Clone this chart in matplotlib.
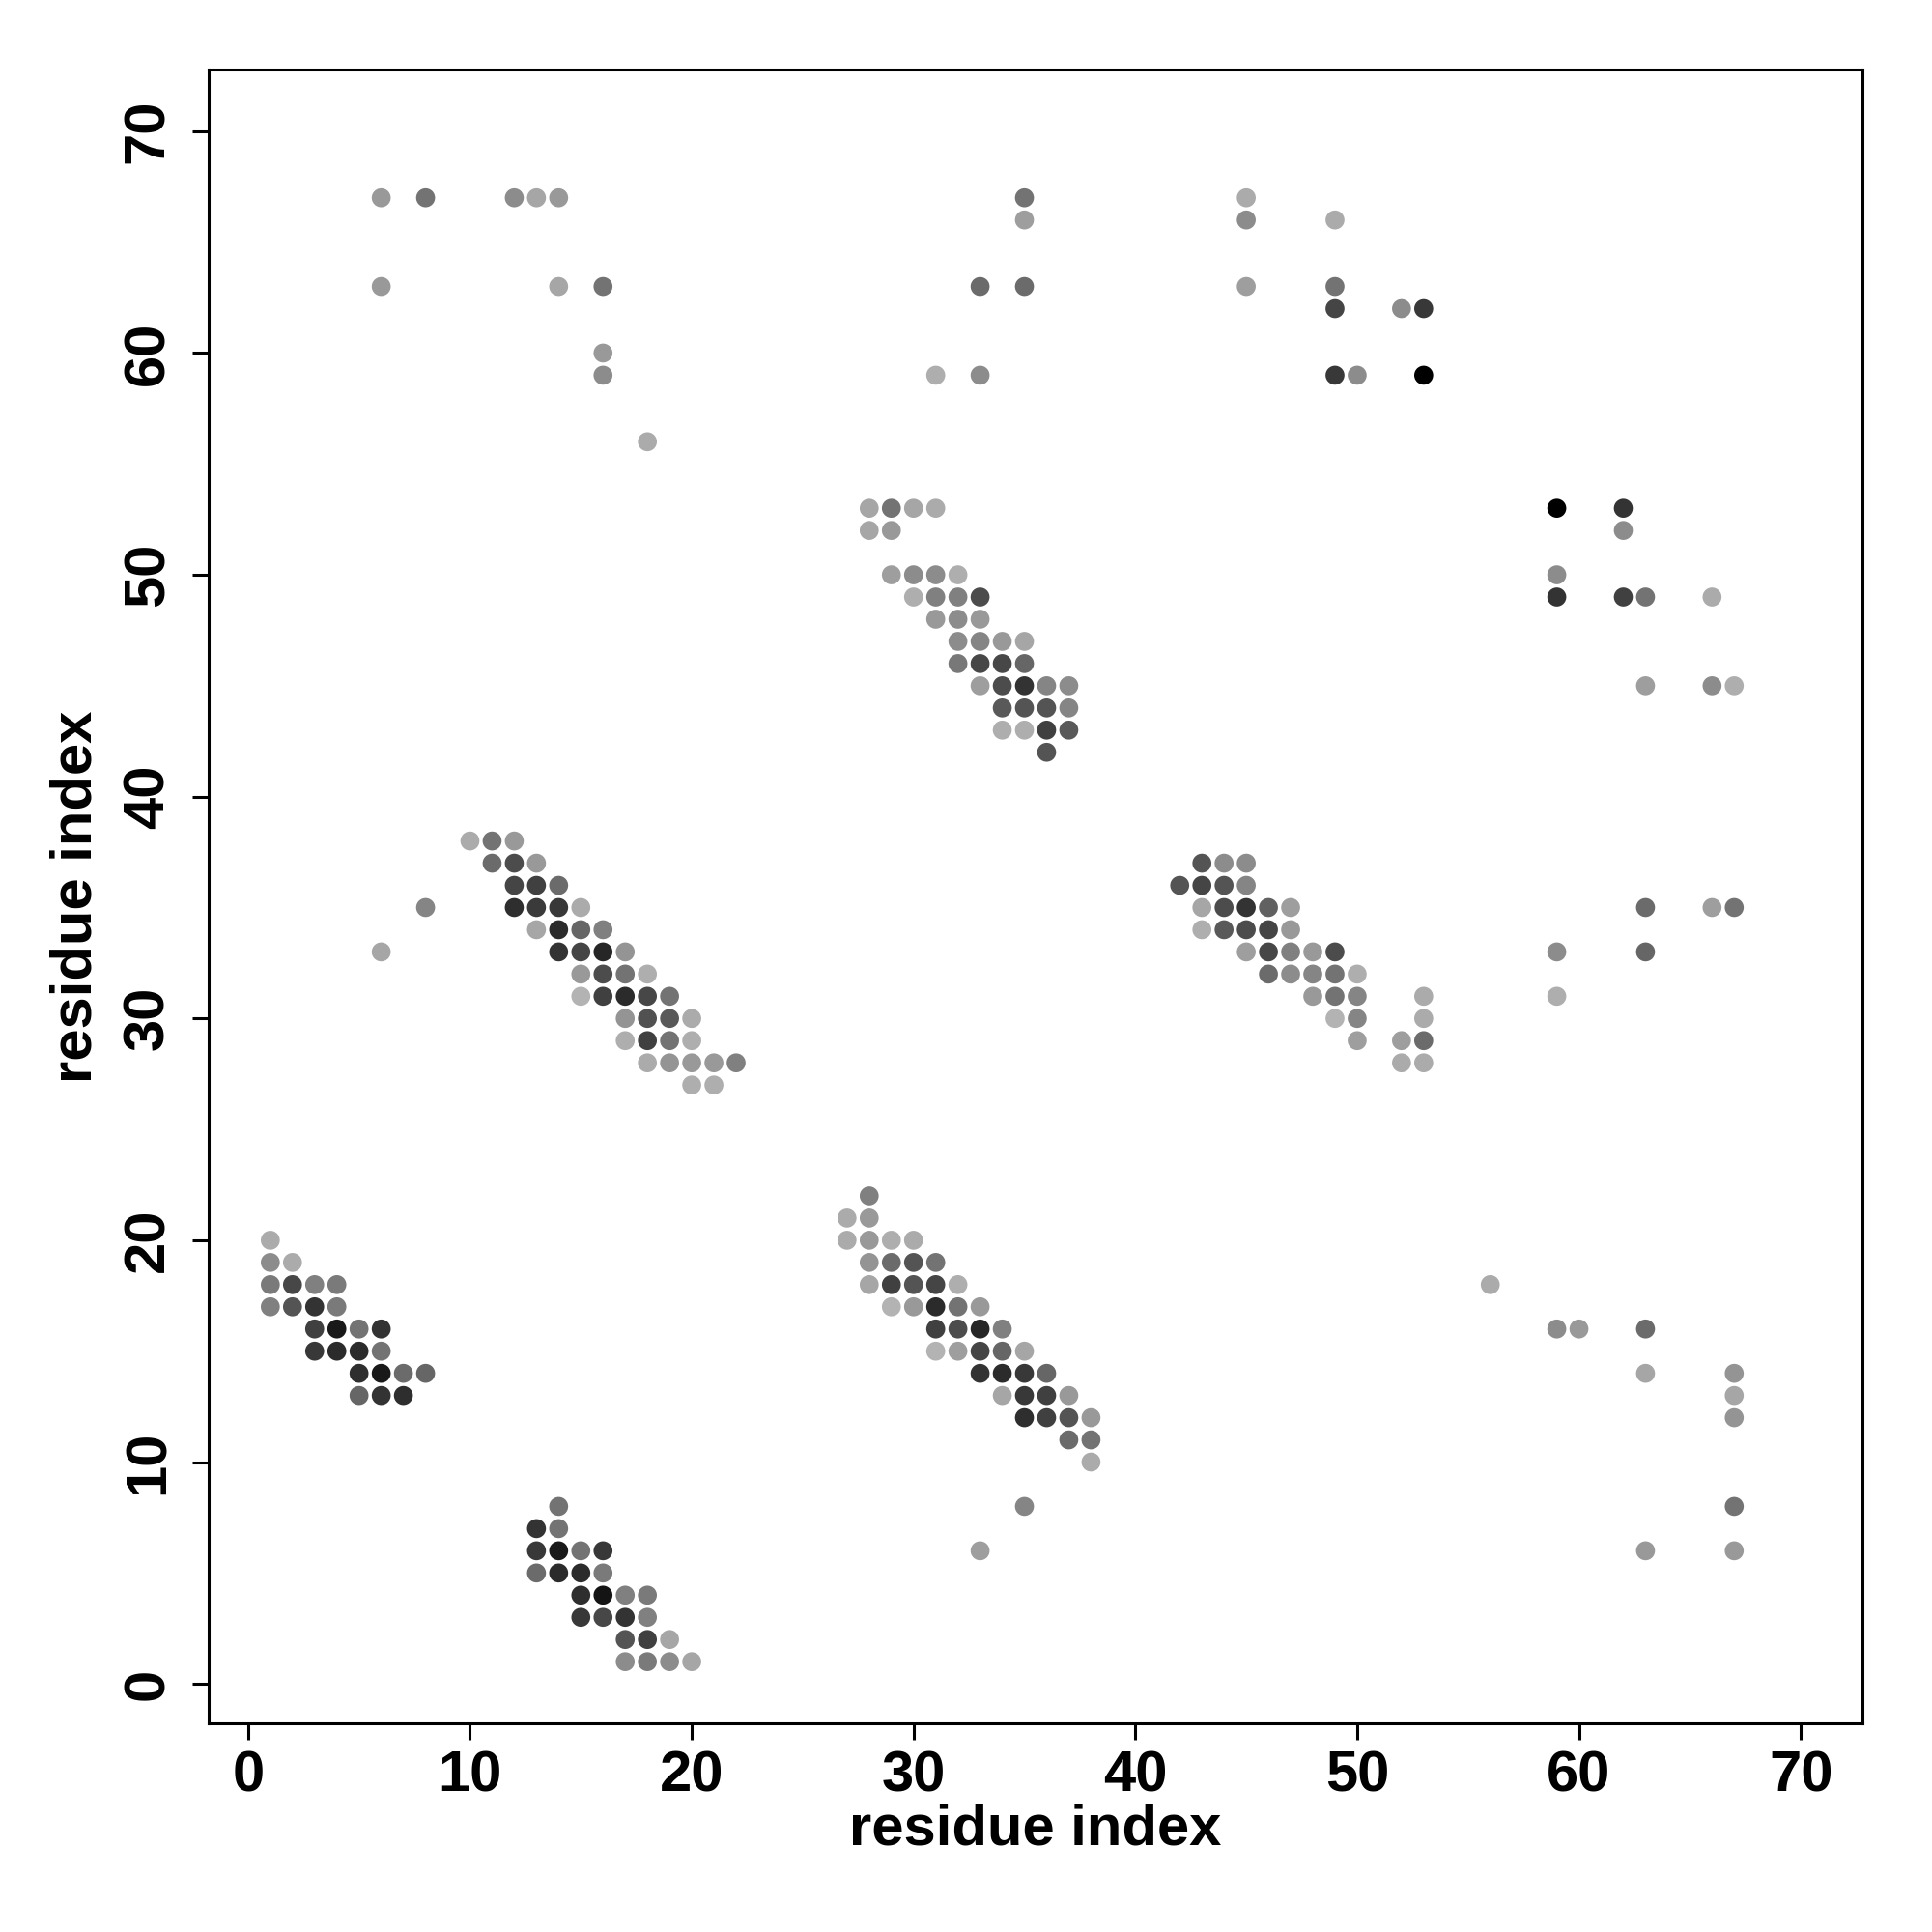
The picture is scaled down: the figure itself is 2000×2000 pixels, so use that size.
import numpy as np
import matplotlib
matplotlib.use('Agg')
from matplotlib import pyplot as plt

# contact points (i, j, grey level of the dot: 0 = black, 1 = white)
block_a = [(1, 20, .67), (1, 19, .55), (2, 19, .67),
           (1, 18, .48), (2, 18, .28), (3, 18, .50), (4, 18, .48),
           (1, 17, .50), (2, 17, .33), (3, 17, .20), (4, 17, .48),
           (3, 16, .25), (4, 16, .10), (5, 16, .45), (6, 16, .20),
           (3, 15, .22), (4, 15, .17), (5, 15, .17), (6, 15, .45),
           (5, 14, .18), (6, 14, .10), (7, 14, .42), (8, 14, .40),
           (5, 13, .40), (6, 13, .20), (7, 13, .18)]

block_b = [(14, 8, .45),
           (13, 7, .20), (14, 7, .45),
           (13, 6, .22), (14, 6, .10), (15, 6, .45), (16, 6, .22),
           (13, 5, .42), (14, 5, .17), (15, 5, .17), (16, 5, .48),
           (15, 4, .18), (16, 4, .08), (17, 4, .50), (18, 4, .48),
           (15, 3, .22), (16, 3, .28), (17, 3, .20), (18, 3, .50),
           (17, 2, .33), (18, 2, .25), (19, 2, .65),
           (17, 1, .55), (18, 1, .48), (19, 1, .55), (20, 1, .65)]

block_c = [(28, 22, .50),
           (27, 21, .67), (28, 21, .60),
           (27, 20, .67), (28, 20, .60), (29, 20, .68), (30, 20, .67),
           (28, 19, .58), (29, 19, .42), (30, 19, .33), (31, 19, .45),
           (28, 18, .65), (29, 18, .25), (30, 18, .33), (31, 18, .27), (32, 18, .68),
           (29, 17, .70), (30, 17, .60), (31, 17, .17), (32, 17, .45), (33, 17, .60),
           (31, 16, .25), (32, 16, .30), (33, 16, .15), (34, 16, .50),
           (31, 15, .70), (32, 15, .62), (33, 15, .27), (34, 15, .40), (35, 15, .65),
           (33, 14, .20), (34, 14, .17), (35, 14, .22), (36, 14, .40),
           (34, 13, .65), (35, 13, .22), (36, 13, .25), (37, 13, .60),
           (35, 12, .18), (36, 12, .25), (37, 12, .33), (38, 12, .60),
           (37, 11, .42), (38, 11, .45),
           (38, 10, .67),
           (35, 8, .52), (33, 6, .62)]

block_d = [(10, 38, .67), (11, 38, .45), (12, 38, .60),
           (11, 37, .42), (12, 37, .30), (13, 37, .60),
           (12, 36, .27), (13, 36, .25), (14, 36, .42),
           (8, 35, .52), (12, 35, .18), (13, 35, .23), (14, 35, .22), (15, 35, .67),
           (13, 34, .65), (14, 34, .17), (15, 34, .40), (16, 34, .50),
           (6, 33, .65), (14, 33, .20), (15, 33, .27), (16, 33, .15), (17, 33, .58),
           (15, 32, .60), (16, 32, .30), (17, 32, .45), (18, 32, .68),
           (15, 31, .70), (16, 31, .25), (17, 31, .17), (18, 31, .28), (19, 31, .45),
           (17, 30, .58), (18, 30, .32), (19, 30, .35), (20, 30, .67),
           (17, 29, .68), (18, 29, .25), (19, 29, .45), (20, 29, .68),
           (18, 28, .67), (19, 28, .58), (20, 28, .60), (21, 28, .60), (22, 28, .50),
           (20, 27, .68), (21, 27, .68)]

block_e = [(28, 53, .65), (29, 53, .45), (30, 53, .65), (31, 53, .67),
           (28, 52, .65), (29, 52, .60),
           (29, 50, .62), (30, 50, .55), (31, 50, .55), (32, 50, .68),
           (30, 49, .68), (31, 49, .50), (32, 49, .50), (33, 49, .30),
           (31, 48, .60), (32, 48, .55), (33, 48, .60),
           (32, 47, .55), (33, 47, .52), (34, 47, .60), (35, 47, .65),
           (32, 46, .47), (33, 46, .28), (34, 46, .28), (35, 46, .40),
           (33, 45, .62), (34, 45, .30), (35, 45, .20), (36, 45, .52), (37, 45, .55),
           (34, 44, .35), (35, 44, .33), (36, 44, .33), (37, 44, .52),
           (34, 43, .68), (35, 43, .68), (36, 43, .25), (37, 43, .35),
           (36, 42, .33)]

block_f = [(43, 37, .33), (44, 37, .55), (45, 37, .55),
           (42, 36, .33), (43, 36, .27), (44, 36, .33), (45, 36, .52),
           (43, 35, .65), (44, 35, .30), (45, 35, .20), (46, 35, .38), (47, 35, .62),
           (43, 34, .68), (44, 34, .35), (45, 34, .30), (46, 34, .27), (47, 34, .60),
           (45, 33, .62), (46, 33, .28), (47, 33, .50), (48, 33, .60), (49, 33, .30),
           (46, 32, .42), (47, 32, .55), (48, 32, .52), (49, 32, .45), (50, 32, .68),
           (48, 31, .60), (49, 31, .45), (50, 31, .52), (53, 31, .67),
           (49, 30, .70), (50, 30, .52), (53, 30, .67),
           (50, 29, .62), (52, 29, .62), (53, 29, .42),
           (52, 28, .67), (53, 28, .67)]

scattered = [(6, 67, .60), (8, 67, .45), (12, 67, .55), (13, 67, .65), (14, 67, .60),
             (6, 63, .60), (14, 63, .65), (16, 63, .45), (16, 60, .60), (16, 59, .55),
             (18, 56, .67),
             (35, 67, .45), (35, 66, .62), (33, 63, .42), (35, 63, .42), (31, 59, .68),
             (33, 59, .55),
             (45, 67, .67), (45, 66, .55), (45, 63, .62), (49, 66, .67), (49, 63, .45),
             (49, 62, .27), (52, 62, .55), (53, 62, .22), (49, 59, .22), (50, 59, .55),
             (53, 59, .00),
             (59, 53, .00), (62, 53, .20), (62, 52, .55), (59, 50, .55), (59, 49, .20),
             (62, 49, .25), (63, 49, .45), (66, 49, .67), (63, 45, .62), (66, 45, .55),
             (67, 45, .68),
             (63, 35, .42), (66, 35, .62), (67, 35, .45), (59, 33, .55), (63, 33, .40),
             (59, 31, .68),
             (56, 18, .67), (59, 16, .55), (60, 16, .60), (63, 16, .42), (63, 14, .65),
             (67, 14, .58), (67, 13, .65), (67, 12, .58), (67, 8, .45), (63, 6, .60),
             (67, 6, .60)]

ticks = [0, 10, 20, 30, 40, 50, 60, 70]

pts = np.array(block_a + block_b + block_c + block_d + block_e + block_f + scattered)

plt.rcParams['font.family'] = ['Liberation Sans', 'DejaVu Sans']
plt.rcParams['font.weight'] = 'bold'

fig = plt.figure(figsize=(10, 10), dpi=200)
ax = fig.add_axes([0.108, 0.108, 0.856, 0.856])

ax.scatter(pts[:, 0], pts[:, 1], c=pts[:, 2], cmap='gray', vmin=0, vmax=1,
           s=50, linewidths=0)

ax.set_xlim(-1.78, 72.78)
ax.set_ylim(-1.78, 72.78)
ax.set_xticks(ticks)
ax.set_yticks(ticks)
ax.tick_params(direction='out', length=6, width=1.1, labelsize=21.5, pad=4)
ax.tick_params(axis='y', pad=6.5)
for lab in ax.get_yticklabels():
    lab.set_rotation(90)
    lab.set_va('center')
for sp in ax.spines.values():
    sp.set_linewidth(1.1)

ax.set_xlabel('residue index', fontsize=21.5, fontweight='bold', labelpad=0)
ax.set_ylabel('residue index', fontsize=21.5, fontweight='bold', labelpad=7)

fig.savefig('out.png', dpi=200, facecolor='white')
